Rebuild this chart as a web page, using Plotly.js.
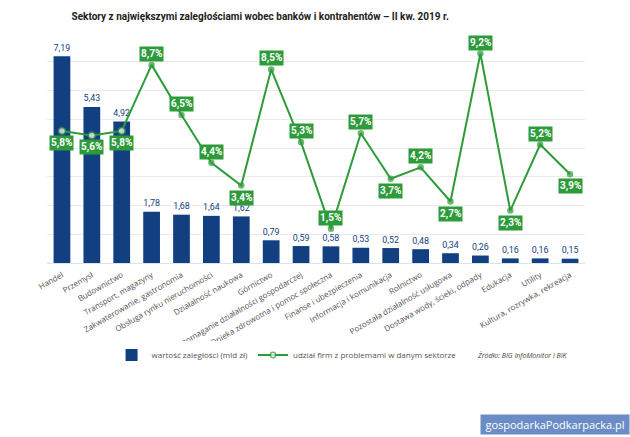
<!DOCTYPE html>
<html><head><meta charset="utf-8">
<script src="https://cdn.plot.ly/plotly-3.0.1.min.js"></script>
<style>html,body{margin:0;padding:0;background:#fff}#c{width:630px;height:437px}</style>
</head><body><div id="c"></div>
<script>
const categories = ["Handel","Przemysł","Budownictwo","Transport, magazyny","Zakwaterowanie, gastronomia","Obsługa rynku nieruchomości","Działalność naukowa","Górnictwo","Wspomaganie działalności gospodarczej","Opieka zdrowotna i pomoc społeczna","Finanse i ubezpieczenia","Informacja i komunikacja","Rolnictwo","Pozostała działalność usługowa","Dostawa wody, ścieki, odpady","Edukacja","Utility","Kultura, rozrywka, rekreacja"];
const arrears = [7.19,5.43,4.92,1.78,1.68,1.64,1.62,0.79,0.59,0.58,0.53,0.52,0.48,0.34,0.26,0.16,0.16,0.15];
const shareWithProblems = [5.8,5.6,5.8,8.7,6.5,4.4,3.4,8.5,5.3,1.5,5.7,3.7,4.2,2.7,9.2,2.3,5.2,3.9];

const NAVY = "#123f80", GREEN = "#2e9b3a";
const labelBelow = [true,true,true,false,false,false,true,false,false,false,false,true,false,true,false,true,false,true];
const pl = v => v.toFixed(2).replace('.', ',');
const pct = v => v.toFixed(1).replace('.', ',') + '%';

const bars = {
  type: 'bar', x: categories, y: arrears, name: 'wartość zaległości (mld zł)',
  marker: {color: NAVY}, text: arrears.map(pl), textposition: 'outside', cliponaxis: false,
  textfont: {family: 'Roboto, sans-serif', size: 11, color: NAVY}, hoverinfo: 'none'
};
const line = {
  type: 'scatter', mode: 'lines+markers', x: categories, y: shareWithProblems, yaxis: 'y2',
  name: 'udział firm z problemami w danym sektorze',
  line: {color: GREEN, width: 2},
  marker: {color: categories.map((c,i)=> i<3 ? '#ffffff' : GREEN),
           size: categories.map((c,i)=> i<3 ? 7 : 5),
           line: {color: GREEN, width: 1.5}},
  cliponaxis: false, hoverinfo: 'none'
};
const annotations = categories.map((c,i)=>({
  x: c, y: shareWithProblems[i], xref: 'x', yref: 'y2', text: '<b>'+pct(shareWithProblems[i])+'</b>',
  showarrow: false, yshift: labelBelow[i] ? -12 : 11, bgcolor: GREEN, borderpad: 1,
  font: {family: 'Roboto, sans-serif', size: 10, color: '#ffffff'}
}));
annotations.push({xref:'paper', yref:'paper', x: 0.796, y: -0.40, xanchor:'left', yanchor:'middle',
  text: '<i>Źródło: BIG InfoMonitor i BIK</i>', showarrow:false,
  font:{family:'Open Sans, sans-serif', size:7, color:'#444'}});
annotations.push({xref:'paper', yref:'paper', x: 1.0836, y: -0.70, xanchor:'right', yanchor:'middle',
  text: 'gospodarkaPodkarpacka.pl', showarrow:false, bgcolor:'#6b8cc6', width: 146, height: 17,
  font:{family:'Open Sans, sans-serif', size:11, color:'#ffffff'}});

const layout = {
  width: 630, height: 437, margin: {l: 47, r: 45, t: 33, b: 174},
  paper_bgcolor: '#fff', plot_bgcolor: '#fff',
  title: {text: '<b>Sektory z największymi zaległościami wobec banków i kontrahentów – II kw. 2019 r.</b>',
          x: 0.413, xanchor: 'center', y: 0.962, yanchor: 'middle',
          font: {family: 'Roboto, sans-serif', size: 10, color: '#222'}},
  bargap: 0.44, showlegend: true,
  legend: {orientation: 'h', x: 0.12, y: -0.40, xanchor: 'left', yanchor: 'middle',
           font: {family: 'Open Sans, sans-serif', size: 8, color: '#555'}, itemwidth: 30, traceorder: 'normal'},
  xaxis: {range: [-0.5, 17.5], autorange: false, tickangle: -30, tickfont: {family: 'Open Sans, sans-serif', size: 8, color: '#555'},
          showline: false, ticks: '', automargin: false, ticklabelstandoff: 5},
  yaxis: {range: [0, 8], showticklabels: false, gridcolor: '#ebebeb', dtick: 1, zeroline: true, zerolinecolor: '#dde3ea', zerolinewidth: 1, automargin: false},
  yaxis2: {range: [0, 10.1], overlaying: 'y', side: 'right', showticklabels: false, showgrid: false, zeroline: false, automargin: false},
  annotations: annotations
};
Plotly.newPlot('c', [bars, line], layout, {displayModeBar: false, staticPlot: true});
</script></body></html>
